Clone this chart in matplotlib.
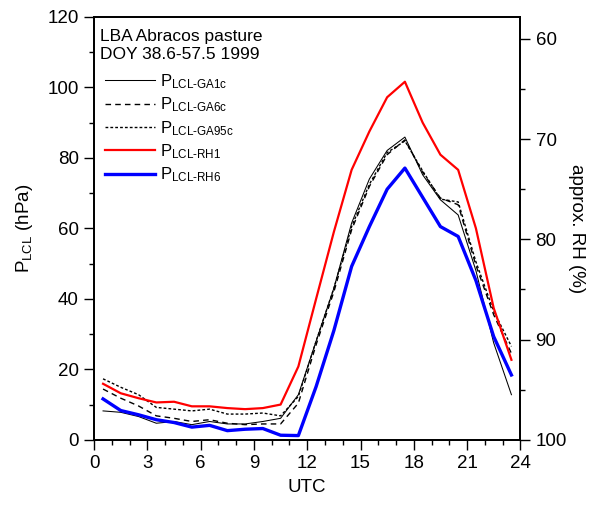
import matplotlib
matplotlib.use("Agg")
import matplotlib.pyplot as plt
from matplotlib.ticker import MultipleLocator

plt.rcParams['font.family'] = ['Liberation Sans', 'DejaVu Sans']
plt.rcParams['mathtext.fontset'] = 'custom'
plt.rcParams['mathtext.rm'] = 'Liberation Sans'
plt.rcParams['mathtext.it'] = 'Liberation Sans'

# hourly means, UTC
hours = [0.5, 1.5, 2.5, 3.5, 4.5, 5.5, 6.5, 7.5, 8.5, 9.5, 10.5, 11.5,
         12.5, 13.5, 14.5, 15.5, 16.5, 17.5, 18.5, 19.5, 20.5, 21.5, 22.5, 23.5]
p_ga1c = [8.2, 7.8, 6.6, 4.7, 5.2, 4.3, 5.2, 4.5, 4.5, 5.2, 6.1, 12.8,
          28.0, 43.0, 61.5, 74.0, 82.1, 85.9, 75.2, 68.1, 63.8, 48.0, 27.5, 12.8]
p_ga6c = [14.4, 11.8, 9.6, 6.8, 6.1, 5.2, 5.7, 4.7, 4.3, 4.5, 4.5, 10.4,
          27.0, 42.0, 59.6, 71.9, 80.9, 85.1, 75.9, 68.6, 66.7, 49.5, 35.5, 24.5]
p_ga95c = [17.3, 14.9, 12.8, 9.2, 8.7, 8.2, 8.7, 7.3, 7.3, 7.6, 6.8, 12.3,
           28.0, 43.0, 60.5, 72.5, 81.5, 84.8, 76.3, 68.3, 67.5, 50.5, 36.5, 26.5]
p_rh1 = [15.9, 13.2, 11.8, 10.6, 10.8, 9.5, 9.5, 9.0, 8.7, 9.0, 10.0, 20.8,
         40.0, 59.0, 76.6, 87.5, 97.2, 101.6, 90.0, 80.9, 76.6, 60.0, 37.4, 22.7]
p_rh6 = [11.6, 8.3, 7.1, 5.7, 4.9, 3.6, 4.1, 2.6, 3.0, 3.2, 1.3, 1.2,
         15.1, 31.0, 49.2, 60.5, 71.1, 77.1, 68.8, 60.5, 57.7, 45.2, 29.3, 18.4]

fig = plt.figure(figsize=(5.96, 5.12), dpi=100)
ax = fig.add_axes([0.158, 0.141, 0.715, 0.826])

ax.plot(hours, p_ga1c, color='black', lw=0.75, label=r'P$_{\rm LCL\text{-}GA1c}$')
ax.plot(hours, p_ga6c, color='black', lw=1.0, dashes=(4, 3), label=r'P$_{\rm LCL\text{-}GA6c}$')
ax.plot(hours, p_ga95c, color='black', lw=1.0, dashes=(2, 1.5), label=r'P$_{\rm LCL\text{-}GA95c}$')
ax.plot(hours, p_rh1, color='#ff0000', lw=1.6, label=r'P$_{\rm LCL\text{-}RH1}$')
ax.plot(hours, p_rh6, color='#0000ff', lw=2.4, label=r'P$_{\rm LCL\text{-}RH6}$')

ax.set_xlim(0, 24)
ax.set_ylim(0, 120)
ax.xaxis.set_major_locator(MultipleLocator(3))
ax.xaxis.set_minor_locator(MultipleLocator(1))
ax.yaxis.set_major_locator(MultipleLocator(20))
ax.yaxis.set_minor_locator(MultipleLocator(10))
ax.tick_params(which='both', direction='out', labelsize=13.5, width=1)
ax.tick_params(which='major', length=7.5)
ax.tick_params(which='minor', length=3.6)
ax.set_xlabel('UTC', fontsize=13.5, labelpad=5)
ax.set_ylabel(r'P$_{\rm LCL}$ (hPa)', fontsize=13.5, labelpad=9)
for s in ax.spines.values():
    s.set_linewidth(1.3)

# approx. RH on the right, linear in P_LCL
ax2 = ax.twinx()
ax2.set_ylim(100, 100 - 120 / 2.845)
ax2.yaxis.set_major_locator(MultipleLocator(10))
ax2.yaxis.set_minor_locator(MultipleLocator(5))
ax2.tick_params(which='both', direction='out', labelsize=13.5, width=1)
ax2.tick_params(which='major', length=7.5)
ax2.tick_params(which='minor', length=3.6)
ax2.set_ylabel('approx. RH (%)', fontsize=13.5, rotation=270, labelpad=13)
for s in ax2.spines.values():
    s.set_linewidth(1.3)

ax.text(0.014, 0.972, 'LBA Abracos pasture\nDOY 38.6-57.5 1999', transform=ax.transAxes,
        ha='left', va='top', fontsize=12.5, linespacing=1.25)
ax.legend(loc='upper left', bbox_to_anchor=(0.01, 0.885), frameon=False, fontsize=12,
          handlelength=3.0, handletextpad=0.3, labelspacing=0.28, borderaxespad=0)

fig.savefig('out.png', dpi=100)
